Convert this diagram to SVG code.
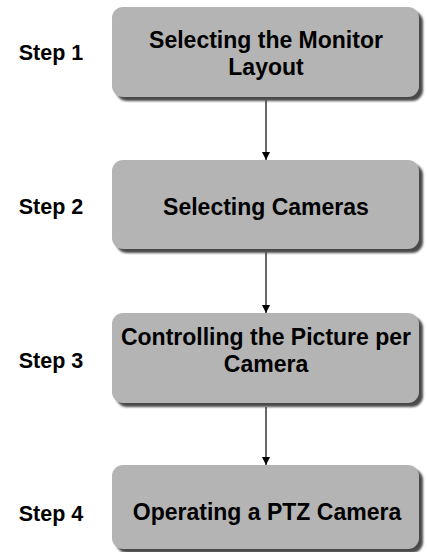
<svg xmlns="http://www.w3.org/2000/svg" width="427" height="552" viewBox="0 0 427 552">
<style>
.box{fill:#b4b4b4;}
.shadow{fill:#4a4a4a;}
.t{font-family:"Liberation Sans",Arial,sans-serif;font-weight:bold;font-size:23px;fill:#000;text-anchor:middle;}
.s{font-family:"Liberation Sans",Arial,sans-serif;font-weight:bold;font-size:21.5px;fill:#000;text-anchor:middle;}
.c{stroke:#000;stroke-width:1.2;fill:none;marker-end:url(#ah);}
</style>
<defs>
<marker id="ah" viewBox="0 0 10 10" refX="10" refY="5" markerWidth="8" markerHeight="8" markerUnits="userSpaceOnUse" orient="auto">
<path d="M0,0 L10,5 L0,10 z" fill="#000"/>
</marker>
<filter id="blur" x="-5%" y="-5%" width="110%" height="110%"><feGaussianBlur stdDeviation="1"/></filter>
</defs>
<rect width="427" height="552" fill="#fff"/>
<g id="connectors">
<line class="c" x1="266" y1="100" x2="266" y2="160"/>
<line class="c" x1="266" y1="252" x2="266" y2="313"/>
<line class="c" x1="266" y1="407" x2="266" y2="465"/>
</g>
<g id="step1">
<text class="s" x="51" y="60">Step 1</text>
<rect class="shadow" x="116" y="11" width="307" height="90" rx="11" filter="url(#blur)"/>
<rect class="box" x="112" y="7" width="307" height="90" rx="11"/>
<text class="t" x="266" y="48">Selecting the Monitor</text>
<text class="t" x="266" y="75">Layout</text>
</g>
<g id="step2">
<text class="s" x="51" y="214">Step 2</text>
<rect class="shadow" x="116" y="164" width="307" height="89" rx="11" filter="url(#blur)"/>
<rect class="box" x="112" y="160" width="307" height="89" rx="11"/>
<text class="t" x="266" y="215">Selecting Cameras</text>
</g>
<g id="step3">
<text class="s" x="51" y="368">Step 3</text>
<rect class="shadow" x="116" y="317" width="307" height="90" rx="11" filter="url(#blur)"/>
<rect class="box" x="112" y="313" width="307" height="90" rx="11"/>
<text class="t" x="266" y="345">Controlling the Picture per</text>
<text class="t" x="266" y="372">Camera</text>
</g>
<g id="step4">
<text class="s" x="51" y="521">Step 4</text>
<rect class="shadow" x="116" y="469" width="307" height="84" rx="11" filter="url(#blur)"/>
<rect class="box" x="112" y="465" width="307" height="84" rx="11"/>
<text class="t" x="267" y="520">Operating a PTZ Camera</text>
</g>
</svg>
